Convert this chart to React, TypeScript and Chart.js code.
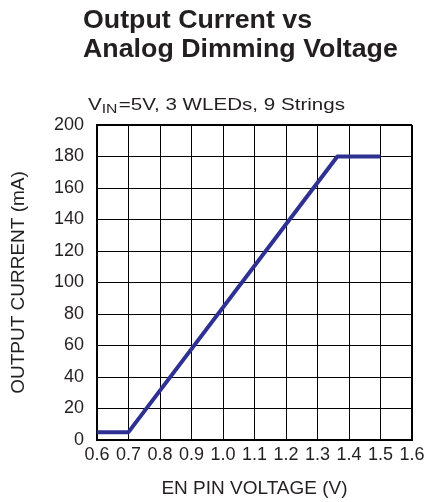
import React, { useEffect, useRef } from "react";
import { Chart, registerables } from "chart.js";

Chart.register(...registerables);

// ---- text ----
const titleLines = ["Output Current vs", "Analog Dimming Voltage"];
const subtitleMain = "V";
const subtitleSub = "IN";
const subtitleRest = "=5V, 3 WLEDs, 9 Strings";
const xTitle = "EN PIN VOLTAGE (V)";
const yTitle = "OUTPUT CURRENT (mA)";

// ---- ticks ----
const xTicks = [0.6, 0.7, 0.8, 0.9, 1.0, 1.1, 1.2, 1.3, 1.4, 1.5, 1.6];
const yTicks = [0, 20, 40, 60, 80, 100, 120, 140, 160, 180, 200];

// ---- series ----
const voltage = [0.6, 0.7, 1.363, 1.5];
const current = [5, 5, 180, 180];

const TEXT = "#231f20";
const LINE = "#2e3192";
const FONT = '"Liberation Sans", Arial, Helvetica, sans-serif';

const headerPlugin = {
  id: "header",
  afterDraw(chart: any) {
    const ctx = chart.ctx as CanvasRenderingContext2D;
    ctx.save();
    ctx.fillStyle = TEXT;
    ctx.textBaseline = "alphabetic";
    ctx.textAlign = "left";
    // title
    ctx.font = `bold 25.5px ${FONT}`;
    const baselines = [28, 57];
    titleLines.forEach((t, i) => {
      ctx.save();
      ctx.translate(83, baselines[i]);
      ctx.scale(1.05, 1);
      ctx.fillText(t, 0, 0);
      ctx.restore();
    });
    // subtitle with subscript
    const mainFont = `17px ${FONT}`;
    const subFont = `13px ${FONT}`;
    ctx.font = mainFont;
    const wV = ctx.measureText(subtitleMain).width;
    const wRest = ctx.measureText(subtitleRest).width;
    ctx.font = subFont;
    const wSub = ctx.measureText(subtitleSub).width;
    const total = wV + wSub + 1 + wRest;
    const sx = 257 / total;
    ctx.save();
    ctx.translate(88, 110);
    ctx.scale(sx, 1);
    ctx.font = mainFont;
    ctx.fillText(subtitleMain, 0, 0);
    ctx.font = subFont;
    ctx.fillText(subtitleSub, wV, 3);
    ctx.font = mainFont;
    ctx.fillText(subtitleRest, wV + wSub + 1, 0);
    ctx.restore();
    ctx.restore();
  },
};

export default function App() {
  const ref = useRef<HTMLCanvasElement | null>(null);

  useEffect(() => {
    if (!ref.current) return;
    const edgeWidth = (n: number) => (c: any) =>
      c.index === 0 || c.index === n - 1 ? 2 : 1;
    const chart = new Chart(ref.current, {
      type: "line",
      data: {
        datasets: [
          {
            data: voltage.map((v, i) => ({ x: v, y: current[i] })),
            borderColor: LINE,
            backgroundColor: LINE,
            borderWidth: 4,
            pointRadius: 0,
            tension: 0,
            borderJoinStyle: "round",
            borderCapStyle: "butt",
          },
        ],
      },
      options: {
        responsive: false,
        animation: false,
        layout: { padding: { top: 125, right: 20, bottom: 0, left: 0 } },
        plugins: {
          legend: { display: false },
          tooltip: { enabled: false },
        },
        scales: {
          x: {
            type: "linear",
            min: 0.6,
            max: 1.6,
            afterBuildTicks: (s: any) => {
              s.ticks = xTicks.map((v) => ({ value: v }));
            },
            afterFit: (s: any) => {
              s.height = 62;
            },
            grid: {
              color: "#000",
              lineWidth: edgeWidth(xTicks.length),
              drawTicks: false,
            },
            border: { color: "#000", width: 2 },
            ticks: {
              color: TEXT,
              font: { family: FONT, size: 18 },
              padding: 4,
              maxRotation: 0,
              autoSkip: false,
              callback: (v: any) => Number(v).toFixed(1),
            },
            title: {
              display: true,
              text: xTitle,
              color: TEXT,
              font: { family: FONT, size: 19 },
              padding: { top: 0, bottom: 2 },
            },
          },
          y: {
            type: "linear",
            min: 0,
            max: 200,
            afterBuildTicks: (s: any) => {
              s.ticks = yTicks.map((v) => ({ value: v }));
            },
            afterFit: (s: any) => {
              s.width = 97;
            },
            grid: {
              color: "#000",
              lineWidth: edgeWidth(yTicks.length),
              drawTicks: false,
            },
            border: { color: "#000", width: 2 },
            ticks: {
              color: TEXT,
              font: { family: FONT, size: 18 },
              padding: 13,
              autoSkip: false,
              callback: (v: any) => String(v),
            },
            title: {
              display: true,
              text: yTitle,
              color: TEXT,
              font: { family: FONT, size: 19 },
              padding: { top: 7, bottom: 0 },
            },
          },
        },
      },
      plugins: [headerPlugin],
    } as any);
    return () => chart.destroy();
  }, []);

  return (
    <div style={{ position: "fixed", left: 0, top: 0, width: 432, height: 502, background: "#fff" }}>
      <canvas ref={ref} width={432} height={502} style={{ display: "block" }} />
    </div>
  );
}
